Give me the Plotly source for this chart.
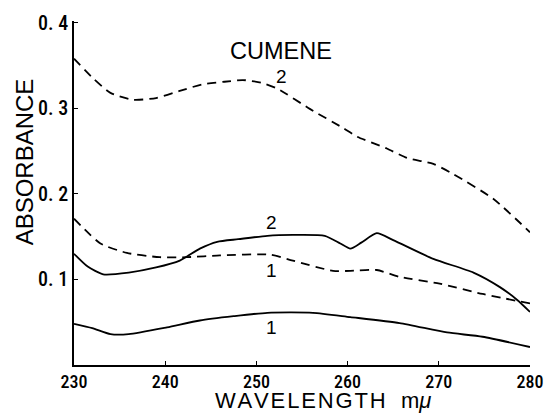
import plotly.graph_objects as go

# Absorption spectra of cumene, curves 1 and 2 (solid and dashed)
wl_solid2 = [230, 231.5, 233.2, 236, 239, 241.6, 243.8, 245.7, 248, 251.2, 254, 257.5, 259.2, 260.3, 261.5, 263.2, 265, 269.4, 273.8, 276.7, 278.6, 280]
ab_solid2 = [0.130, 0.115, 0.106, 0.108, 0.114, 0.122, 0.136, 0.144, 0.147, 0.151, 0.152, 0.151, 0.142, 0.136, 0.143, 0.154, 0.146, 0.124, 0.108, 0.091, 0.076, 0.062]

wl_solid1 = [230, 232, 234, 236, 240.2, 243.8, 247.5, 251.2, 256.2, 260.3, 265.7, 270.9, 274.8, 280]
ab_solid1 = [0.048, 0.043, 0.036, 0.036, 0.044, 0.052, 0.057, 0.061, 0.061, 0.056, 0.049, 0.038, 0.033, 0.021]

wl_dash2 = [230, 232, 234, 236.5, 239, 241.5, 244.1, 246.5, 248.5, 250.5, 252.3, 255.9, 259.5, 261, 264.3, 266.5, 269.4, 271.6, 276, 280]
ab_dash2 = [0.358, 0.336, 0.318, 0.310, 0.312, 0.320, 0.328, 0.331, 0.333, 0.330, 0.323, 0.299, 0.277, 0.267, 0.253, 0.242, 0.235, 0.223, 0.194, 0.155]

wl_dash1 = [230, 232.9, 235.8, 239.4, 242.4, 246, 251.5, 254, 258.4, 260.3, 263.2, 265.7, 270.1, 274.8, 280]
ab_dash1 = [0.171, 0.142, 0.131, 0.126, 0.126, 0.128, 0.129, 0.122, 0.110, 0.110, 0.111, 0.103, 0.095, 0.083, 0.072]

x_ticks = [230, 240, 250, 260, 270, 280]
y_ticks = [0.1, 0.2, 0.3, 0.4]
y_tick_text = ["0. 1", "0. 2", "0. 3", "0. 4"]

# curve labels: (x, y, text)
label_x = [252.8, 251.7, 251.7, 251.7]
label_y = [0.337, 0.166, 0.110, 0.044]
label_text = ["2", "2", "1", "1"]

fig = go.Figure()
line_style = dict(color="black", width=1.8, shape="spline", smoothing=0.6)
fig.add_trace(go.Scatter(x=wl_dash2, y=ab_dash2, mode="lines", line=dict(line_style, dash="9px,6px")))
fig.add_trace(go.Scatter(x=wl_dash1, y=ab_dash1, mode="lines", line=dict(line_style, dash="9px,6px")))
fig.add_trace(go.Scatter(x=wl_solid2, y=ab_solid2, mode="lines", line=line_style))
fig.add_trace(go.Scatter(x=wl_solid1, y=ab_solid1, mode="lines", line=line_style))

label_font = dict(family="Liberation Sans, Arial", size=19, color="black")
for lx, ly, lt in zip(label_x, label_y, label_text):
    fig.add_annotation(x=lx, y=ly, text=lt, showarrow=False, font=label_font)
fig.add_annotation(x=252.7, y=0.367, text="CUMENE", showarrow=False,
                   font=dict(family="Liberation Sans, Arial", size=23.5, color="black"))

# axis titles placed in paper coordinates
hair = "\u200a"
x_title = hair.join("WAVELENGTH") + "\u2002\u2009m<i>μ</i>"
fig.add_annotation(x=-0.109, y=0.59, xref="paper", yref="paper", text="ABSORBANCE",
                   xanchor="center", yanchor="middle", textangle=-90, showarrow=False,
                   font=dict(family="Liberation Sans, Arial", size=24, color="black"))
fig.add_annotation(x=0.545, y=-0.104, xref="paper", yref="paper",
                   xanchor="center", yanchor="middle", text=x_title, showarrow=False,
                   font=dict(family="Liberation Sans, Arial", size=22, color="black"))

fig.update_xaxes(range=[230, 280], tickvals=x_ticks, ticks="inside", ticklen=4,
                 tickcolor="black", showline=True, linecolor="black", linewidth=1.5,
                 showgrid=False, zeroline=False, automargin=False, ticklabelstandoff=0,
                 tickfont=dict(family="Roboto Condensed", weight=500, size=18, color="black"))
fig.update_yaxes(range=[0, 0.402], tickvals=y_ticks, ticktext=y_tick_text, ticks="inside",
                 ticklen=4, tickcolor="black", showline=True, linecolor="black", linewidth=1.5,
                 showgrid=False, zeroline=False, automargin=False, ticklabelstandoff=0,
                 tickfont=dict(family="Roboto Condensed", weight=500, size=20, color="black"))
fig.update_layout(width=550, height=414, margin=dict(l=74, r=20, t=21, b=49),
                  plot_bgcolor="white", paper_bgcolor="white", showlegend=False)

fig.write_html("out.html")
